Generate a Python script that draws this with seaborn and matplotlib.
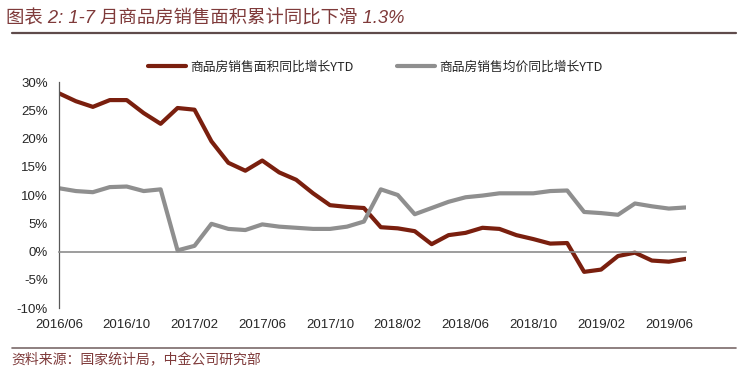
import pandas as pd
import matplotlib.pyplot as plt
import seaborn as sns
from matplotlib.lines import Line2D

# 2016/06 .. 2019/07, monthly
months = pd.period_range("2016-06", "2019-07", freq="M").strftime("%Y/%m").tolist()

area_ytd = [28.0, 26.6, 25.6, 26.8, 26.8, 24.5, 22.6, 25.4, 25.1, 19.5,
            15.7, 14.3, 16.1, 14.0, 12.7, 10.3, 8.2, 7.9, 7.7, 4.3,
            4.1, 3.6, 1.3, 2.9, 3.3, 4.2, 4.0, 2.9, 2.2, 1.4,
            1.5, -3.6, -3.2, -0.8, -0.2, -1.6, -1.8, -1.3]

price_ytd = [11.2, 10.7, 10.5, 11.4, 11.5, 10.7, 11.0, 0.2, 1.0, 4.9,
             4.0, 3.8, 4.8, 4.4, 4.2, 4.0, 4.0, 4.4, 5.3, 11.0,
             10.0, 6.6, 7.7, 8.8, 9.6, 9.9, 10.3, 10.3, 10.3, 10.7,
             10.8, 7.0, 6.8, 6.5, 8.5, 8.0, 7.6, 7.8]

name_area = "商品房销售面积同比增长YTD"
name_price = "商品房销售均价同比增长YTD"

yticks = [30, 25, 20, 15, 10, 5, 0, -5, -10]
xtick_labels = ["2016/06", "2016/10", "2017/02", "2017/06", "2017/10",
                "2018/02", "2018/06", "2018/10", "2019/02", "2019/06"]

title = "图表 2: 1-7 月商品房销售面积累计同比下滑 1.3%"
source = "资料来源：国家统计局，中金公司研究部"

df = pd.DataFrame({
    "idx": list(range(len(months))) * 2,
    "value": area_ytd + price_ytd,
    "series": [name_area] * len(months) + [name_price] * len(months),
})

sns.set_style("white")
plt.rcParams["font.family"] = ["Liberation Sans", "Noto Sans CJK SC", "DejaVu Sans"]

fig = plt.figure(figsize=(7.4, 3.87), dpi=100)
ax = fig.add_axes([0.0797, 0.2041, 0.847, 0.584])

sns.lineplot(
    data=df, x="idx", y="value", hue="series",
    hue_order=[name_area, name_price],
    palette=["#7a1f0e", "#8f8f8f"],
    linewidth=3, ax=ax,
)
for ln in ax.get_lines():
    ln.set_solid_joinstyle("round")
    ln.set_solid_capstyle("round")

ax.set_xlim(0, len(months) - 1)
ax.set_ylim(-10, 30)
ax.set_yticks(yticks)
ax.set_yticklabels([f"{v}%" for v in yticks], fontsize=9.5, color="#262626")
ax.tick_params(axis="y", direction="in", length=4, width=0.8,
               color="#595959", pad=8)
ax.set_xlabel("")
ax.set_ylabel("")

for s in ["top", "right"]:
    ax.spines[s].set_visible(False)
ax.spines["left"].set_color("#595959")
ax.spines["left"].set_linewidth(0.9)
ax.spines["bottom"].set_position(("data", 0))
ax.spines["bottom"].set_color("#8c8c8c")
ax.spines["bottom"].set_linewidth(1.2)

tick_pos = [i * 4 for i in range(len(xtick_labels))]
ax.set_xticks(tick_pos)
ax.tick_params(axis="x", direction="in", length=4, width=0.8,
               color="#8c8c8c", labelbottom=False)

sec = ax.secondary_xaxis("bottom")
sec.set_xticks(tick_pos)
sec.set_xticklabels(xtick_labels, fontsize=9.5, color="#262626")
sec.tick_params(length=0, pad=8)
sec.spines["bottom"].set_visible(False)

sns.move_legend(
    ax, "center", bbox_to_anchor=(0.504, 1.066), ncol=2, frameon=False,
    title=None, handlelength=3.0, columnspacing=3.4, handletextpad=0.3,
    prop={"family": ["Noto Sans CJK SC", "DejaVu Sans"], "size": 9.2},
)
for h in ax.get_legend().legend_handles:
    h.set_linewidth(3)

fig.text(0.008, 0.952, title, fontsize=13.2, color="#7f3a3a",
         family=["Liberation Sans", "Noto Sans CJK SC"], va="center",
         style="italic")
fig.text(0.016, 0.070, source, fontsize=10, color="#7f3a3a",
         family=["Noto Sans CJK SC", "DejaVu Sans"], va="center")

fig.add_artist(Line2D([0.016, 0.995], [0.915, 0.915], color="#5f4b4b",
                      linewidth=1.6, transform=fig.transFigure))
fig.add_artist(Line2D([0.016, 0.995], [0.102, 0.102], color="#7a6a6a",
                      linewidth=1.2, transform=fig.transFigure))

fig.savefig("out.png", dpi=100)
